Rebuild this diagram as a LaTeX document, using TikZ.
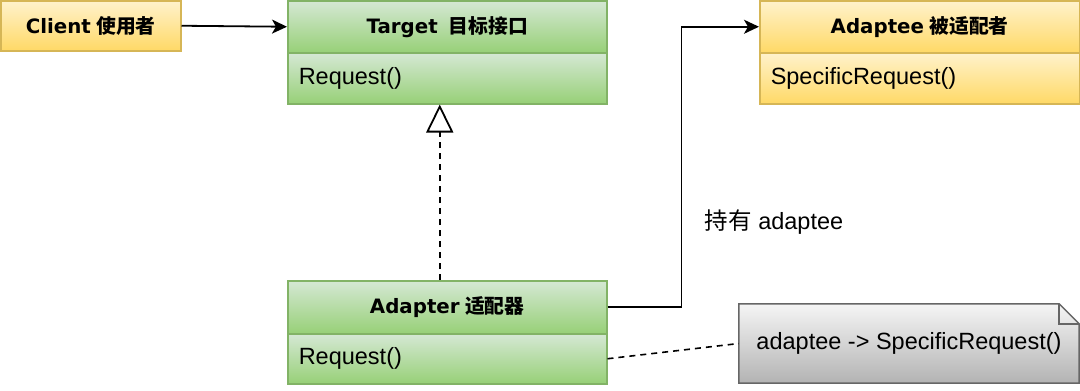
\documentclass[tikz,border=0pt]{standalone}
\usepackage{fontspec}
\setmainfont{Liberation Sans}
\newfontfamily\vb{DejaVu Sans}
\newfontfamily\cjk{Noto Sans CJK SC}
\usetikzlibrary{arrows.meta,backgrounds}
\definecolor{gtop}{HTML}{D5E8D4}
\definecolor{gbot}{HTML}{97D077}
\definecolor{gline}{HTML}{82B366}
\definecolor{ytop}{HTML}{FFF2CC}
\definecolor{ybot}{HTML}{FFD966}
\definecolor{yline}{HTML}{D6B656}
\definecolor{ntop}{HTML}{F5F5F5}
\definecolor{nbot}{HTML}{B3B3B3}
\definecolor{nline}{HTML}{666666}
\tikzset{
  box/.style={rectangle, line width=1.5pt, inner sep=0pt, anchor=north west},
  greenbox/.style={box, draw=gline, top color=gtop, bottom color=gbot},
  yellowbox/.style={box, draw=yline, top color=ytop, bottom color=ybot},
  headfont/.style={font=\fontsize{19.8}{24}\selectfont},
  headtext/.style={headfont, minimum width=319pt, minimum height=52pt, align=center},
  bodytext/.style={text width=297pt, inner xsep=11pt, inner ysep=0pt, minimum height=51pt, align=left, font=\fontsize{23.5}{28}\selectfont},
  arr/.style={line width=1.8pt, -{Stealth[length=15pt,width=14pt,inset=4pt]}},
}
\begin{document}
\begin{tikzpicture}[x=1pt,y=-1pt]
\useasboundingbox (0,0) rectangle (1080,391);
% Client
\node[yellowbox, headfont, minimum width=180pt, minimum height=50pt] (client) at (0,0)
  {{\vb\bfseries Client} {\cjk\bfseries 使用者}};
% Target
\node[greenbox, headtext] (th) at (287,0) {{\vb\bfseries Target}\ \ {\cjk\bfseries 目标接口}};
\node[greenbox, bodytext] (tb) at (287,52) {Request()};
% Adaptee
\node[yellowbox, headtext, minimum width=320pt] (eh) at (759,0) {{\vb\bfseries Adaptee} {\cjk\bfseries 被适配者}};
\node[yellowbox, bodytext, text width=298pt] (eb) at (759,52) {SpecificRequest()};
% Adapter
\node[greenbox, headtext, minimum height=53pt] (ah) at (287,280) {{\vb\bfseries Adapter} {\cjk\bfseries 适配器}};
\node[greenbox, bodytext, minimum height=50pt] (ab) at (287,333) {Request()};
% Note
\node[minimum width=340pt, minimum height=79pt, inner sep=0pt, font=\fontsize{23.5}{28}\selectfont] (note) at (909,343.5) {adaptee -> SpecificRequest()};
\begin{scope}[on background layer]
\path[line width=1.5pt, draw=nline, top color=ntop, bottom color=nbot]
  (note.south west) -- (note.north west) -- ([xshift=-20pt]note.north east)
  -- ([yshift=-20pt]note.north east) -- (note.south east) -- cycle;
\draw[line width=1.5pt, draw=nline] ([xshift=-20pt]note.north east) -- ([xshift=-20pt,yshift=-20pt]note.north east) -- ([yshift=-20pt]note.north east);
\end{scope}
% Label
\node[font=\fontsize{23.5}{28}\selectfont] (lbl) at (774,222) {{\cjk 持有} adaptee};
% Connectors
\draw[arr] (client.east) -- (th.west);
\draw[arr] (ah.east) -- ++(74,0) |- (eh.west);
\draw[line width=1.8pt, dash pattern=on 6pt off 5pt, -{Triangle[open,length=28pt,width=27pt,line width=1.8pt]}]
  ([xshift=-7.5pt]ah.north) -- ([xshift=-7.5pt]tb.south);
\draw[line width=1.6pt, dash pattern=on 6pt off 5pt] (ab.east) -- (note.west);
\end{tikzpicture}
\end{document}
